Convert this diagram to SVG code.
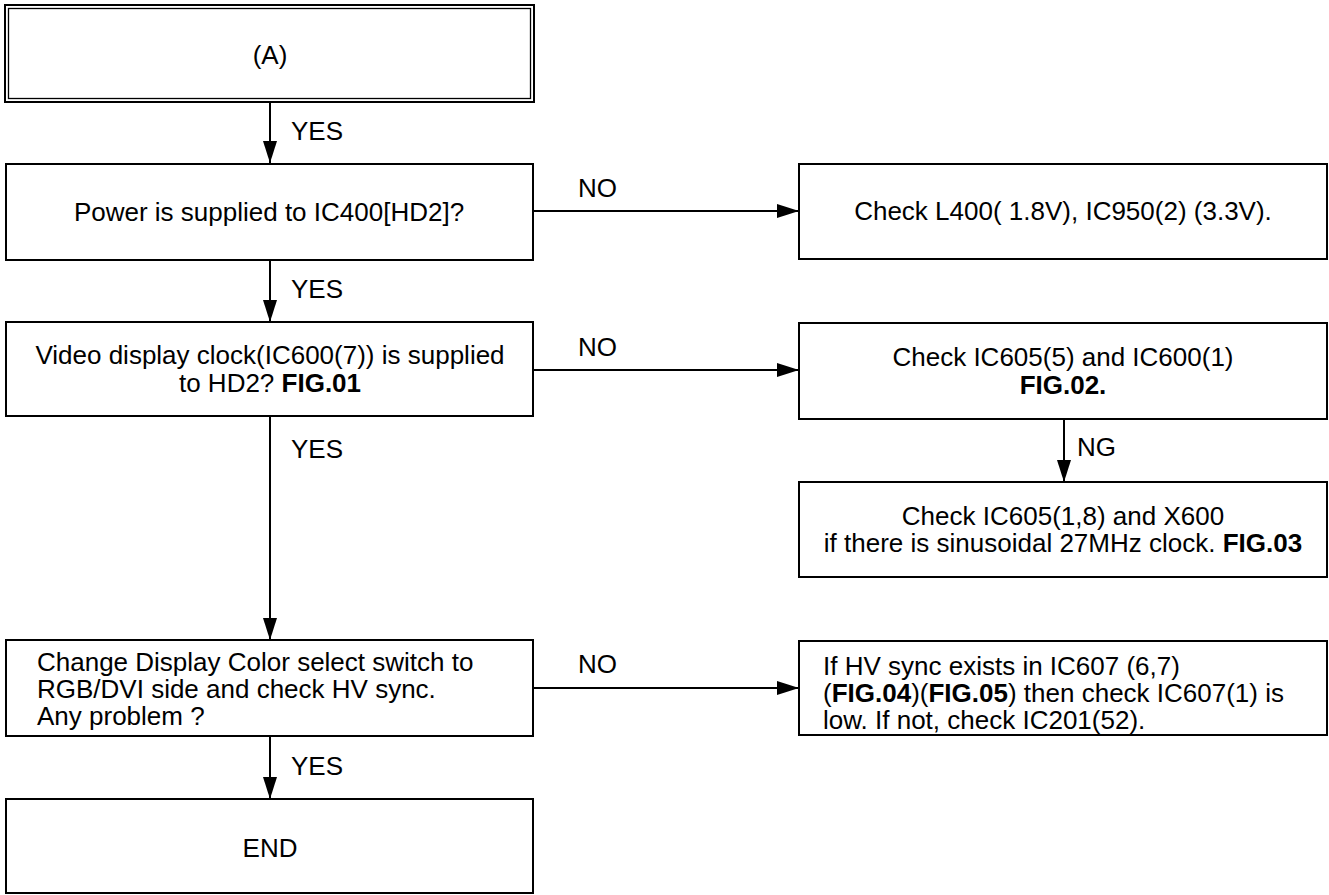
<svg xmlns="http://www.w3.org/2000/svg" width="1329" height="895" viewBox="0 0 1329 895">
<defs>
<style>
.box{fill:#fff;stroke:#000;stroke-width:2}
.inner{fill:none;stroke:#000;stroke-width:1.3}
.t{font-family:"Liberation Sans",Arial,Helvetica,sans-serif;font-size:26px;fill:#000}
.c{text-anchor:middle}
.b{font-weight:bold}
.ln{fill:none;stroke:#000;stroke-width:2}
</style>
<marker id="arr" viewBox="0 0 22 14" refX="22" refY="7" markerWidth="22" markerHeight="14" markerUnits="userSpaceOnUse" orient="auto">
<path d="M0,0 L22,7 L0,14 z" fill="#000"/>
</marker>
</defs>
<rect width="1329" height="895" fill="#fff"/>

<g id="nodeA">
<rect class="box" x="5" y="5" width="529" height="97" stroke-width="2.4"/>
<rect class="inner" x="8.5" y="8.5" width="522" height="90"/>
<text class="t c" x="270" y="64">(A)</text>
</g>

<g id="nodePower">
<rect class="box" x="6" y="164" width="527" height="96"/>
<text class="t c" x="269" y="221">Power is supplied to IC400[HD2]?</text>
</g>

<g id="nodeCheckL400">
<rect class="box" x="799" y="164" width="528" height="95"/>
<text class="t c" x="1063" y="220">Check L400( 1.8V), IC950(2) (3.3V).</text>
</g>

<g id="nodeVideo">
<rect class="box" x="6" y="322" width="527" height="94"/>
<text class="t c" x="270" y="364">Video display clock(IC600(7)) is supplied</text>
<text class="t c" x="270" y="392">to HD2? <tspan class="b">FIG.01</tspan></text>
</g>

<g id="nodeIC605">
<rect class="box" x="799" y="323" width="528" height="96"/>
<text class="t c" x="1063" y="366">Check IC605(5) and IC600(1)</text>
<text class="t c b" x="1063" y="394">FIG.02.</text>
</g>

<g id="nodeIC605b">
<rect class="box" x="799" y="482" width="528" height="95"/>
<text class="t c" x="1063" y="525">Check IC605(1,8) and X600</text>
<text class="t c" x="1063" y="552">if there is sinusoidal 27MHz clock. <tspan class="b">FIG.03</tspan></text>
</g>

<g id="nodeChange">
<rect class="box" x="6" y="640" width="527" height="96"/>
<text class="t" x="37" y="671">Change Display Color select switch to</text>
<text class="t" x="37" y="698">RGB/DVI side and check HV sync.</text>
<text class="t" x="37" y="725">Any problem ?</text>
</g>

<g id="nodeHV">
<rect class="box" x="799" y="641" width="528" height="94"/>
<text class="t" x="823" y="675">If HV sync exists in IC607 (6,7)</text>
<text class="t" x="823" y="702">(<tspan class="b">FIG.04</tspan>)(<tspan class="b">FIG.05</tspan>) then check IC607(1) is</text>
<text class="t" x="823" y="729">low. If not, check IC201(52).</text>
</g>

<g id="nodeEND">
<rect class="box" x="6" y="799" width="527" height="94"/>
<text class="t c" x="270" y="857">END</text>
</g>

<g id="connectors">
<path class="ln" d="M270,102 V163" marker-end="url(#arr)"/>
<text class="t" x="291" y="140">YES</text>
<path class="ln" d="M533,211 H799" marker-end="url(#arr)"/>
<text class="t" x="578" y="197">NO</text>
<path class="ln" d="M270,260 V322" marker-end="url(#arr)"/>
<text class="t" x="291" y="298">YES</text>
<path class="ln" d="M533,370 H799" marker-end="url(#arr)"/>
<text class="t" x="578" y="356">NO</text>
<path class="ln" d="M1064,419 V482" marker-end="url(#arr)"/>
<text class="t" x="1077" y="456">NG</text>
<path class="ln" d="M270,416 V640" marker-end="url(#arr)"/>
<text class="t" x="291" y="458">YES</text>
<path class="ln" d="M533,688 H799" marker-end="url(#arr)"/>
<text class="t" x="578" y="673">NO</text>
<path class="ln" d="M270,736 V799" marker-end="url(#arr)"/>
<text class="t" x="291" y="775">YES</text>
</g>
</svg>
